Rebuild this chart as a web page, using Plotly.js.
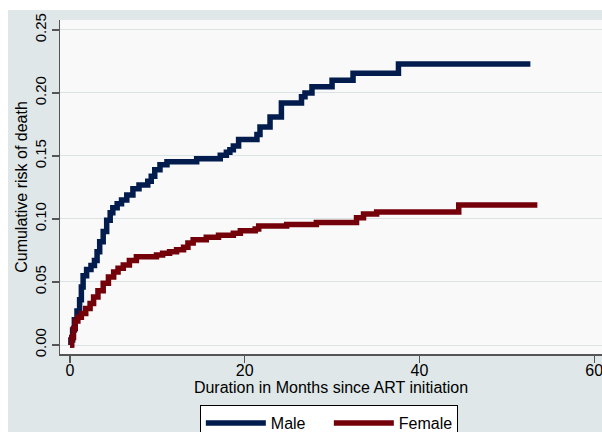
<!DOCTYPE html>
<html>
<head>
<meta charset="utf-8">
<script src="https://cdn.plot.ly/plotly-3.0.1.min.js"></script>
<style>html,body{margin:0;padding:0;background:#fff;}#chart{width:602px;height:432px;}</style>
</head>
<body>
<div id="chart"></div>
<script>
// Male cumulative risk (step points)
const maleMonths = [0,0.1,0.3,0.5,0.8,1.1,1.3,1.5,1.9,2.4,2.8,3.1,3.4,3.8,4.2,4.6,4.9,5.4,5.9,6.5,7.2,7.9,8.9,9.3,9.7,10.3,11.1,14.5,17.2,17.9,18.3,18.7,19.3,21.4,21.75,22.9,24.2,26.5,26.9,27.7,30.0,32.4,37.6,52.7];
const maleRisk   = [0,0.004,0.012,0.02,0.027,0.036,0.046,0.055,0.060,0.063,0.067,0.074,0.082,0.090,0.099,0.105,0.109,0.112,0.115,0.119,0.124,0.127,0.130,0.134,0.139,0.143,0.1455,0.1478,0.1505,0.153,0.155,0.158,0.163,0.167,0.173,0.181,0.192,0.197,0.200,0.205,0.210,0.2156,0.223,0.223];
// Female cumulative risk (step points)
const femaleMonths = [0,0.2,0.4,0.6,0.9,1.3,1.8,2.3,2.7,3.2,3.8,4.4,5.0,5.5,6.1,6.8,7.6,9.9,10.6,11.4,12.2,13.0,13.5,14.1,15.6,17.0,18.7,19.5,21.2,21.6,24.8,28.2,32.8,33.6,35.1,44.5,53.5];
const femaleRisk   = [0,0.006,0.013,0.019,0.022,0.025,0.029,0.033,0.038,0.043,0.049,0.054,0.058,0.061,0.0635,0.067,0.070,0.0714,0.0728,0.074,0.0755,0.0775,0.081,0.0835,0.0855,0.087,0.0886,0.0907,0.092,0.0944,0.0957,0.0973,0.101,0.104,0.1055,0.111,0.111];

const xTicks = [0,20,40,60];
const yTicks = [0,0.05,0.10,0.15,0.20,0.25];

const FONT = "Liberation Sans, Arial, sans-serif";

const traces = [
  {x: maleMonths, y: maleRisk, name: "Male", type: "scatter", mode: "lines",
   line: {color: "#021c4e", width: 5.5, shape: "hv"}},
  {x: femaleMonths, y: femaleRisk, name: "Female", type: "scatter", mode: "lines",
   line: {color: "#74000a", width: 5.5, shape: "hv"}}
];

const layout = {
  width: 602, height: 432,
  margin: {l: 60, r: 0, t: 20, b: 78, pad: 0, autoexpand: false},
  paper_bgcolor: "#dfe7e8",
  plot_bgcolor: "#f9f9f9",
  font: {family: FONT, size: 16, color: "#000"},
  showlegend: true,
  legend: {orientation: "h", x: 0.258, xanchor: "left", y: -0.153, yanchor: "top",
    bordercolor: "#000", borderwidth: 1, bgcolor: "#ffffff",
    font: {family: FONT, size: 16, color: "#000"}, entrywidth: 53, entrywidthmode: "pixels",
    itemwidth: 60},
  xaxis: {range: [-1.145, 60.9], tickvals: xTicks, ticktext: xTicks.map(String), automargin: false,
    showgrid: false, zeroline: false, showline: true, linecolor: "#555", linewidth: 1.5,
    ticks: "outside", ticklen: 7, tickcolor: "#555", tickwidth: 1.2, ticklabelstandoff: -6,
    ticklabeloverflow: "allow",
    tickfont: {family: FONT, size: 16, color: "#000"},
    title: {text: "Duration in Months since ART initiation", font: {family: FONT, size: 16, color: "#000"}, standoff: 2}},
  yaxis: {range: [-0.00714, 0.2579], tickvals: yTicks, ticktext: yTicks.map(v => v.toFixed(2)), automargin: false,
    tickangle: -90, showgrid: true, gridcolor: "#dae3e4", gridwidth: 1,
    zeroline: false, showline: true, linecolor: "#555", linewidth: 1.5,
    ticks: "outside", ticklen: 7, tickcolor: "#555", tickwidth: 1.2,
    tickfont: {family: FONT, size: 15, color: "#000"},
    title: {text: "Cumulative risk of death", font: {family: FONT, size: 16, color: "#000"}, standoff: 0}},
  shapes: [
    {type: "rect", xref: "paper", yref: "paper", x0: -0.12, x1: 1.01, y0: 1.0299, y1: 1.07,
     fillcolor: "#ffffff", line: {width: 0}, layer: "above"},
    {type: "rect", xref: "paper", yref: "paper", x0: -0.12, x1: -0.0959, y0: -0.25, y1: 1.07,
     fillcolor: "#ffffff", line: {width: 0}, layer: "above"}
  ]
};

Plotly.newPlot("chart", traces, layout, {displayModeBar: false, staticPlot: true});
</script>
</body>
</html>
